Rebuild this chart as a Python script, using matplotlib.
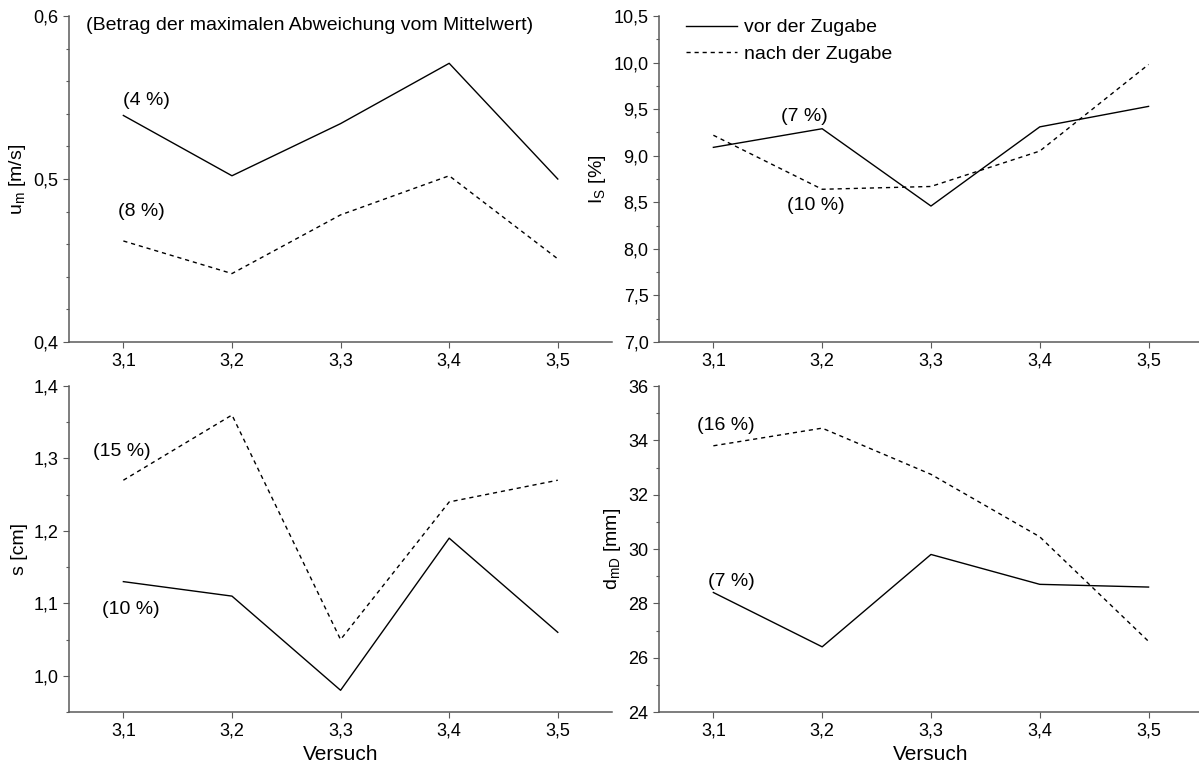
import matplotlib
matplotlib.use('Agg')
import matplotlib.pyplot as plt
from matplotlib.ticker import MultipleLocator

plt.rcParams['font.family'] = ['Liberation Sans', 'DejaVu Sans']
plt.rcParams['mathtext.fontset'] = 'custom'
plt.rcParams['mathtext.rm'] = 'Liberation Sans'
plt.rcParams['mathtext.it'] = 'Liberation Sans'

# Versuche
versuch = [3.1, 3.2, 3.3, 3.4, 3.5]
versuch_labels = ['3,1', '3,2', '3,3', '3,4', '3,5']

# vor / nach der Zugabe
um_vor = [0.539, 0.502, 0.534, 0.571, 0.500]
um_nach = [0.462, 0.442, 0.478, 0.502, 0.451]

is_vor = [9.09, 9.29, 8.46, 9.31, 9.53]
is_nach = [9.22, 8.64, 8.67, 9.05, 9.98]

s_vor = [1.13, 1.11, 0.98, 1.19, 1.06]
s_nach = [1.27, 1.36, 1.05, 1.24, 1.27]

d_vor = [28.4, 26.4, 29.8, 28.7, 28.6]
d_nach = [33.8, 34.45, 32.75, 30.45, 26.6]

# Achsen
um_ticks = [0.4, 0.5, 0.6]
um_labels = ['0,4', '0,5', '0,6']
is_ticks = [7.0, 7.5, 8.0, 8.5, 9.0, 9.5, 10.0, 10.5]
is_labels = ['7,0', '7,5', '8,0', '8,5', '9,0', '9,5', '10,0', '10,5']
s_ticks = [1.0, 1.1, 1.2, 1.3, 1.4]
s_labels = ['1,0', '1,1', '1,2', '1,3', '1,4']
d_ticks = [24, 26, 28, 30, 32, 34, 36]
d_labels = ['24', '26', '28', '30', '32', '34', '36']

grey = '#5a5a5a'

fig = plt.figure(figsize=(11.99, 7.71), dpi=100)
ax1 = fig.add_axes([0.0576, 0.5564, 0.4529, 0.4228])
ax2 = fig.add_axes([0.5496, 0.5564, 0.4537, 0.4228])
ax3 = fig.add_axes([0.0576, 0.0765, 0.4529, 0.4228])
ax4 = fig.add_axes([0.5496, 0.0765, 0.4537, 0.4228])


def setup(ax, ticks, labels, ylim, minor, ylabel):
    ax.set_xlim(3.05, 3.55)
    ax.set_ylim(*ylim)
    ax.set_xticks(versuch)
    ax.set_xticklabels(versuch_labels)
    ax.set_yticks(ticks)
    ax.set_yticklabels(labels)
    ax.yaxis.set_minor_locator(MultipleLocator(minor))
    for side in ['top', 'right']:
        ax.spines[side].set_visible(False)
    for side in ['left', 'bottom']:
        ax.spines[side].set_color(grey)
        ax.spines[side].set_linewidth(1.1)
    ax.tick_params(which='major', direction='out', length=4.5, width=0.8,
                   color=grey, labelsize=13, pad=3)
    ax.tick_params(which='minor', direction='out', length=2.5, width=0.8,
                   color=grey)
    ax.set_ylabel(ylabel, fontsize=14)
    ax.patch.set_visible(False)


def draw(ax, vor, nach):
    ax.plot(versuch, vor, color='k', lw=1.0, label='vor der Zugabe')
    ax.plot(versuch, nach, color='k', lw=1.0, dashes=(3, 2.8),
            label='nach der Zugabe')


draw(ax1, um_vor, um_nach)
setup(ax1, um_ticks, um_labels, (0.4, 0.6), 0.02, r'u$_\mathregular{m}$ [m/s]')
ax1.text(3.066, 0.594, '(Betrag der maximalen Abweichung vom Mittelwert)',
         fontsize=14, va='center', ha='left')
ax1.text(3.1, 0.548, '(4 %)', fontsize=14, va='center', ha='left')
ax1.text(3.095, 0.480, '(8 %)', fontsize=14, va='center', ha='left')

draw(ax2, is_vor, is_nach)
setup(ax2, is_ticks, is_labels, (7.0, 10.5), 0.25, r'I$_\mathregular{S}$ [%]')
ax2.text(3.162, 9.42, '(7 %)', fontsize=14, va='center', ha='left')
ax2.text(3.168, 8.47, '(10 %)', fontsize=14, va='center', ha='left')
ax2.legend(loc='upper left', bbox_to_anchor=(0.017, 1.045), frameon=False,
           fontsize=14, handlelength=2.65, handletextpad=0.35,
           labelspacing=0.45)

draw(ax3, s_vor, s_nach)
setup(ax3, s_ticks, s_labels, (0.95, 1.4), 0.05, 's [cm]')
ax3.text(3.072, 1.309, '(15 %)', fontsize=14, va='center', ha='left')
ax3.text(3.080, 1.091, '(10 %)', fontsize=14, va='center', ha='left')
ax3.set_xlabel('Versuch', fontsize=15)

draw(ax4, d_vor, d_nach)
setup(ax4, d_ticks, d_labels, (24, 36), 1, r'd$_\mathregular{mD}$ [mm]')
ax4.text(3.085, 34.53, '(16 %)', fontsize=14, va='center', ha='left')
ax4.text(3.095, 28.82, '(7 %)', fontsize=14, va='center', ha='left')
ax4.set_xlabel('Versuch', fontsize=15)

fig.savefig('out.png', dpi=100)
